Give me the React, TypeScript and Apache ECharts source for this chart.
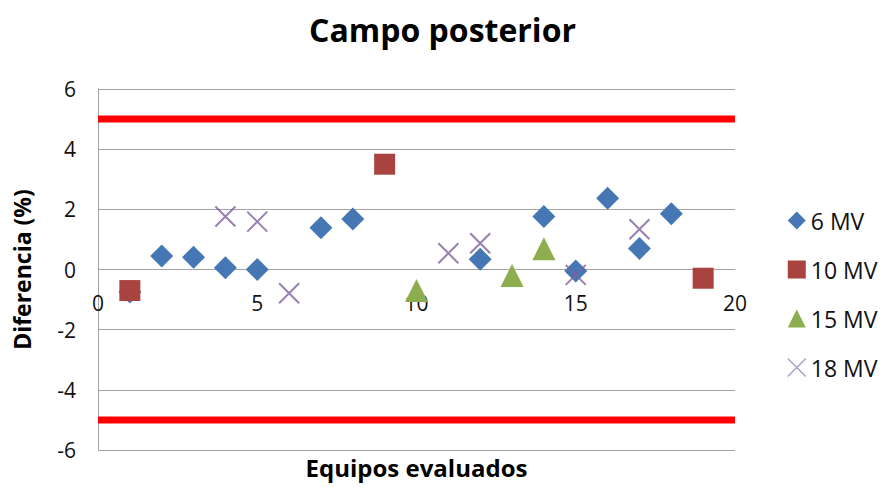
import React, { useEffect, useRef } from "react";
import * as echarts from "echarts";

// Equipos evaluados (eje X) y diferencia porcentual (eje Y) por energía
const equipos6MV = [1, 2, 3, 4, 5, 7, 8, 12, 14, 15, 16, 17, 18];
const dif6MV = [-0.75, 0.45, 0.41, 0.06, 0.0, 1.39, 1.68, 0.34, 1.76, -0.05, 2.37, 0.7, 1.85];

const equipos10MV = [1, 9, 19];
const dif10MV = [-0.7, 3.5, -0.29];

const equipos15MV = [10, 13, 14];
const dif15MV = [-0.7, -0.2, 0.69];

const equipos18MV = [4, 5, 6, 11, 12, 15, 17];
const dif18MV = [1.76, 1.59, -0.79, 0.54, 0.87, -0.18, 1.34];

// Tolerancia de ±5 %
const limites = [5, -5];
const rangoX = [0, 20];
const rangoY = [-6, 6];

const nombres = ["6 MV", "10 MV", "15 MV", "18 MV"];
const colores = ["#4677B5", "#A9433F", "#8DAE4E", "#7D609F"];

const FONT = "'Open Sans', Lato, sans-serif";
const CRUZ = "path://M0,0L20,20M20,0L0,20";
const GRIS = "#A3A3A3";

const GRID_TOP = 89;
const GRID_BOTTOM = 37;
const ALTO = 487;

const pares = (xs: number[], ys: number[]) => xs.map((x, i) => [x, ys[i]]);

export default function App() {
  const ref = useRef<HTMLDivElement>(null);

  useEffect(() => {
    if (!ref.current) return;
    const chart = echarts.init(ref.current, undefined, { renderer: "svg" });

    const puntos = [
      { xs: equipos6MV, ys: dif6MV, symbol: "diamond", size: 23 },
      { xs: equipos10MV, ys: dif10MV, symbol: "rect", size: 21 },
      { xs: equipos15MV, ys: dif15MV, symbol: "triangle", size: 23 },
      { xs: equipos18MV, ys: dif18MV, symbol: CRUZ, size: 20 },
    ];

    const seriesPuntos = puntos.map((p, i) => {
      const esCruz = p.symbol === CRUZ;
      return {
        name: nombres[i],
        type: "scatter",
        symbol: p.symbol,
        symbolSize: p.size,
        data: pares(p.xs, p.ys),
        z: 5,
        itemStyle: esCruz
          ? { color: "transparent", borderColor: colores[i], borderWidth: 2 }
          : { color: colores[i], opacity: 1 },
      };
    });

    const seriesLimites = limites.map((v, i) => ({
      name: "limite" + i,
      type: "line",
      silent: true,
      symbol: "none",
      z: 3,
      lineStyle: { color: "#FF0000", width: 7 },
      data: rangoX.map((x) => [x, v]),
    }));

    // The horizontal axis crosses the vertical one at 0
    const altoGrid = ALTO - GRID_TOP - GRID_BOTTOM;
    const desplazamientoCero = -altoGrid * (0 - rangoY[0]) / (rangoY[1] - rangoY[0]);

    chart.setOption({
      animation: false,
      backgroundColor: "#ffffff",
      textStyle: { fontFamily: FONT },
      title: {
        text: "Campo posterior",
        left: "center",
        top: 8,
        textStyle: { fontFamily: FONT, fontSize: 32, fontWeight: "bold", color: "#000" },
      },
      legend: {
        data: nombres.map((n, i) => ({
          name: n,
          icon: puntos[i].symbol,
          itemStyle:
            puntos[i].symbol === CRUZ
              ? { color: "transparent", borderColor: "#9A86BE", borderWidth: 1.5 }
              : { color: colores[i] },
        })),
        orient: "vertical",
        left: 782,
        top: 204,
        itemWidth: 18,
        itemHeight: 18,
        itemGap: 26,
        textStyle: { fontFamily: FONT, fontSize: 23, color: "#111" },
      },
      grid: {
        left: 98,
        right: 150,
        top: GRID_TOP,
        bottom: GRID_BOTTOM,
        containLabel: false,
        outerBoundsMode: "none",
      },
      xAxis: {
        type: "value",
        min: rangoX[0],
        max: rangoX[1],
        interval: 5,
        offset: desplazamientoCero,
        name: "Equipos evaluados",
        nameLocation: "middle",
        nameGap: 186,
        nameTextStyle: {
          fontFamily: FONT,
          fontSize: 24,
          lineHeight: 24,
          fontWeight: "bold",
          color: "#000",
        },
        axisLine: { show: true, onZero: false, lineStyle: { color: GRIS, width: 1 } },
        axisTick: { show: false },
        axisLabel: { margin: 23, fontSize: 21, color: "#111", fontFamily: FONT },
        splitLine: { show: false },
      },
      yAxis: {
        type: "value",
        min: rangoY[0],
        max: rangoY[1],
        interval: 2,
        name: "Diferencia (%)",
        nameLocation: "middle",
        nameRotate: 90,
        nameGap: 65,
        nameTextStyle: { fontFamily: FONT, fontSize: 23, fontWeight: "bold", color: "#000" },
        axisLine: { show: true, onZero: false, lineStyle: { color: GRIS, width: 1 } },
        axisTick: { show: false },
        axisLabel: { margin: 22, fontSize: 21, color: "#111", fontFamily: FONT },
        splitLine: { show: true, lineStyle: { color: GRIS, width: 1 } },
      },
      series: [...seriesLimites, ...seriesPuntos],
    });

    return () => chart.dispose();
  }, []);

  return (
    <div
      ref={ref}
      style={{ position: "fixed", left: 0, top: 0, width: 885, height: 487, background: "#fff" }}
    />
  );
}
